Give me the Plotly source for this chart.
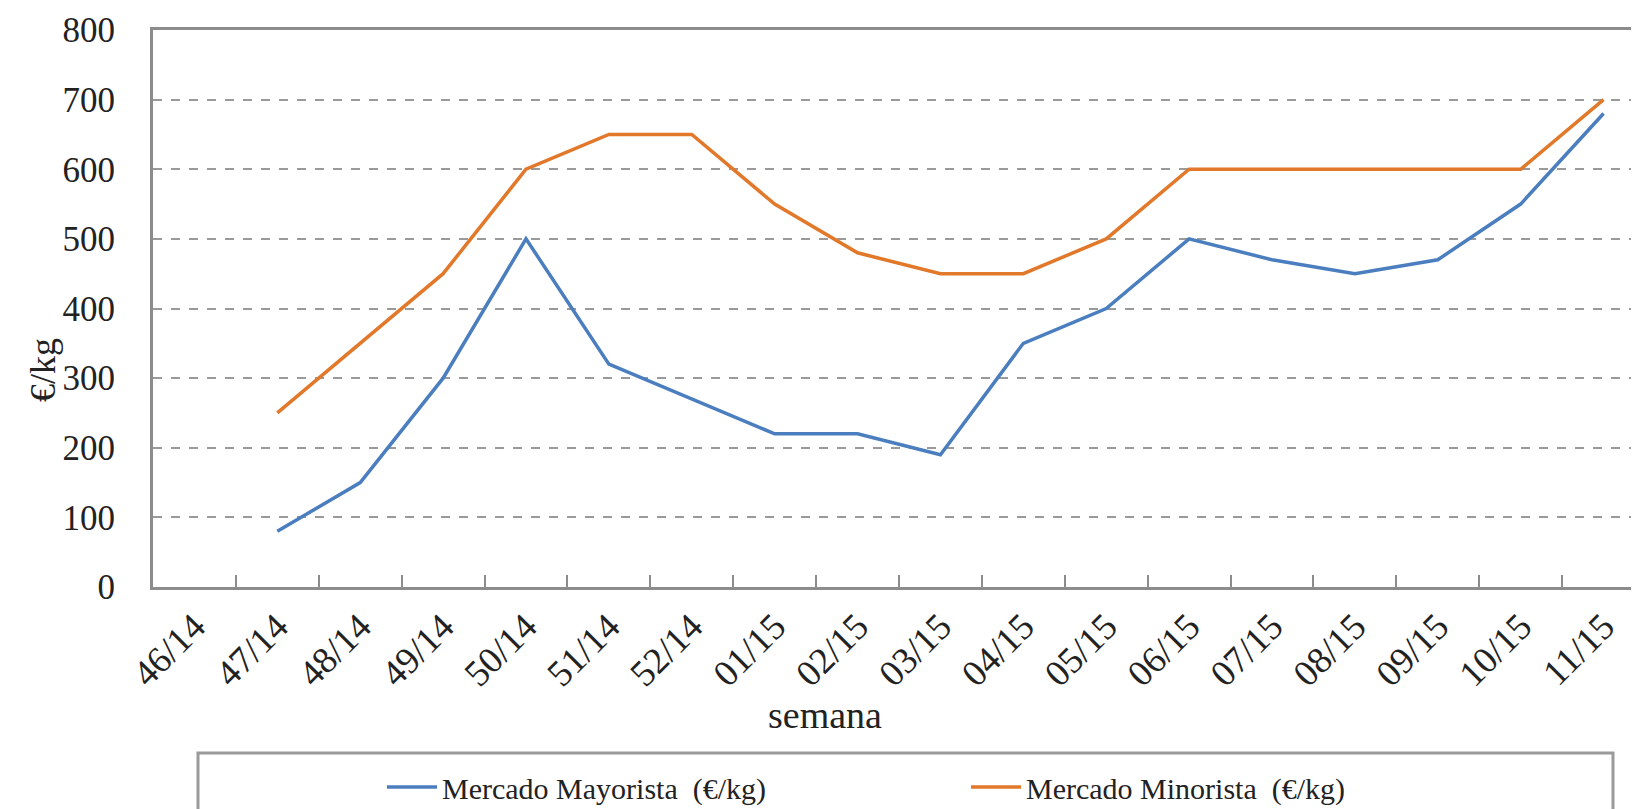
import plotly.graph_objects as go

semanas = ["46/14", "47/14", "48/14", "49/14", "50/14", "51/14", "52/14", "01/15", "02/15",
           "03/15", "04/15", "05/15", "06/15", "07/15", "08/15", "09/15", "10/15", "11/15"]
mayorista = [None, 80, 150, 300, 500, 320, 270, 220, 220, 190, 350, 400, 500, 470, 450, 470, 550, 680]
minorista = [None, 250, 350, 450, 600, 650, 650, 550, 480, 450, 450, 500, 600, 600, 600, 600, 600, 700]
y_ticks = [0, 100, 200, 300, 400, 500, 600, 700, 800]

W, H = 1639, 809
L, R, T, B = 145, 2, 22, 230

FONT = "Liberation Serif"

fig = go.Figure()
fig.add_trace(go.Scatter(x=semanas, y=mayorista, mode="lines", name="Mercado Mayorista  (€/kg)",
                         line=dict(color="#4a7ebf", width=3.5)))
fig.add_trace(go.Scatter(x=semanas, y=minorista, mode="lines", name="Mercado Minorista  (€/kg)",
                         line=dict(color="#e2782a", width=3.5)))

fig.update_layout(
    width=W, height=H,
    margin=dict(l=L, r=R, t=T, b=B, autoexpand=False),
    paper_bgcolor="white", plot_bgcolor="white",
    font=dict(family=FONT, color="#222222"),
    showlegend=True,
    legend=dict(orientation="h", x=(384 - 10 - L) / (W - L - R), xanchor="left",
                y=-(779 - (H - B)) / (H - T - B), yanchor="middle",
                font=dict(family=FONT, size=30, color="#222222"),
                bgcolor="rgba(0,0,0,0)", entrywidth=519, entrywidthmode="pixels",
                itemwidth=50, traceorder="normal"),
    xaxis=dict(type="category", categoryorder="array", categoryarray=semanas,
               range=[-0.5, len(semanas) - 0.5], automargin=False,
               showgrid=False, showline=True, linecolor="#8c8c8c", linewidth=3, mirror=True,
               ticks="inside", tickson="boundaries", ticklen=12, tickcolor="#8c8c8c", tickwidth=2,
               tickangle=-45, tickfont=dict(family=FONT, size=37, color="#222222"),
               zeroline=False),
    yaxis=dict(range=[0, 800], tickvals=y_ticks, showgrid=True, gridcolor="#9a9a9a", gridwidth=2,
               griddash="dash", showline=True, linecolor="#8c8c8c", linewidth=3, mirror=True,
               ticks="", tickfont=dict(family=FONT, size=35, color="#222222"), automargin=False,
               zeroline=False, ticklabelstandoff=28),
)

# axis titles
fig.add_annotation(text="semana", xref="paper", yref="paper",
                   x=(817 - L) / (W - L - R), y=-(707 - (H - B)) / (H - T - B),
                   showarrow=False, font=dict(family=FONT, size=38, color="#222222"),
                   xanchor="center", yanchor="middle")
fig.add_annotation(text="€/kg", xref="paper", yref="paper",
                   x=(35 - L) / (W - L - R), y=((H - B) - 362) / (H - T - B),
                   showarrow=False, textangle=-90, font=dict(family=FONT, size=36, color="#222222"),
                   xanchor="center", yanchor="middle")

# legend frame (extends past the bottom edge as in the reference)
fig.add_shape(type="rect", xref="paper", yref="paper",
              x0=(190 - L) / (W - L - R), x1=(1605 - L) / (W - L - R),
              y0=-(820 - (H - B)) / (H - T - B), y1=-(745 - (H - B)) / (H - T - B),
              line=dict(color="#9a9a9a", width=3), fillcolor="rgba(0,0,0,0)", layer="below")

fig.write_html("out.html")
